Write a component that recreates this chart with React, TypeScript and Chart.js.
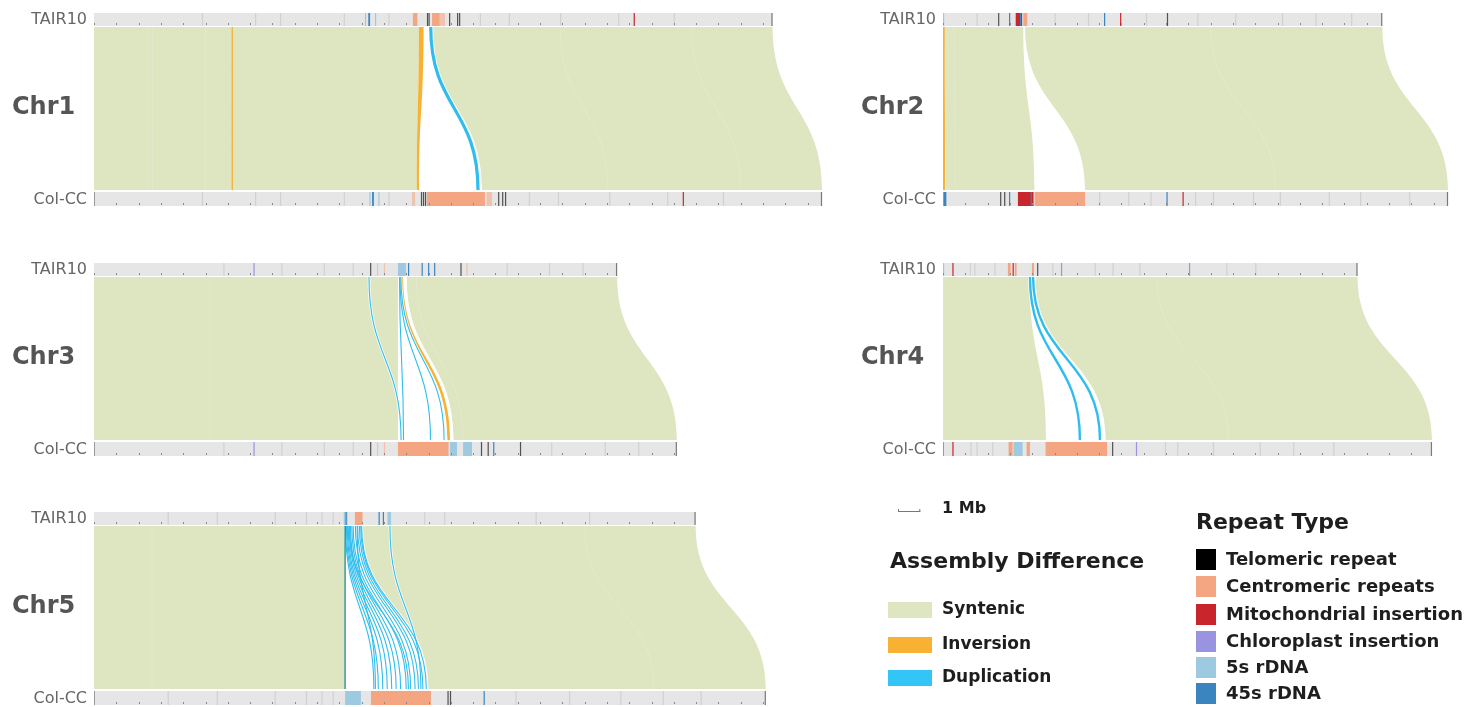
import React, { useEffect, useRef } from 'react';
import { Chart, registerables } from 'chart.js';

Chart.register(...registerables);

const W = 1476;
const H = 707;
const PX_PER_MB = 22.3;
const X_MAX_MB = W / PX_PER_MB;

// ---------- data ----------
const CHROMS = ['Chr1', 'Chr2', 'Chr3', 'Chr4', 'Chr5'];
const TAIR10_LEN = [30.43, 19.7, 23.46, 18.59, 26.98];
const COLCC_LEN = [32.65, 22.65, 26.14, 21.93, 30.13];

// syntenic blocks: [TAIR10 start, TAIR10 end, Col-CC start, Col-CC end] (Mb)
const SYN_CHR1 = [[0, 14.57, 0, 14.48], [15.2, 30.43, 17.4, 32.65]];
const SYN_CHR2 = [[0.08, 3.6, 0.12, 4.1], [3.68, 19.7, 6.37, 22.65]];
const SYN_CHR3 = [[0, 13.63, 0, 13.63], [14.02, 23.46, 16.12, 26.14]];
const SYN_CHR4 = [[0, 3.88, 0, 4.62], [4.15, 18.59, 7.3, 21.93]];
const SYN_CHR5 = [[0, 11.26, 0, 11.26], [12.05, 26.98, 15.0, 30.13]];

// inversions: [TAIR10 start, TAIR10 end, Col-CC start, Col-CC end]
const INV_CHR1 = [[6.17, 6.23, 6.17, 6.23], [14.57, 14.78, 14.48, 14.58]];
const INV_CHR2 = [[0, 0.08, 0, 0.1]];
const INV_CHR3 = [[13.74, 13.86, 15.85, 15.97]];
const INV_CHR4: number[][] = [];
const INV_CHR5: number[][] = [];

// duplications: [TAIR10 pos, Col-CC pos, line width]
const DUP_CHR1 = [[15.1, 17.22, 3.2]];
const DUP_CHR2: number[][] = [];
const DUP_CHR3 = [[12.33, 13.77, 1.1], [13.7, 13.88, 1.1], [13.72, 15.09, 1.1], [13.76, 15.7, 1.1]];
const DUP_CHR4 = [[3.9, 6.14, 2.4], [4.04, 7.04, 2.4]];
const DUP_CHR5 = [
  [11.28, 12.55, 1.1], [11.32, 12.75, 1.1], [11.36, 12.95, 1.1], [11.4, 13.15, 1.1],
  [11.45, 13.35, 1.1], [11.5, 13.55, 1.1], [11.56, 13.75, 1.1], [11.62, 14.0, 1.1],
  [11.72, 14.2, 1.1], [11.82, 14.4, 1.1], [11.9, 14.55, 1.1], [11.96, 14.75, 1.1],
  [12.0, 14.9, 1.1], [11.45, 14.1, 1.1], [13.27, 14.66, 1.1], [11.8, 12.62, 1.1],
];
// edge duplication line (teal)
const EDGE_CHR5 = [[11.26, 11.26, 1.3]];

// faint alignment boundaries inside syntenic blocks: [TAIR10 pos, Col-CC pos]
const BOUND_CHR1 = [[2.45, 2.45], [2.62, 2.62], [5.0, 5.0], [20.9, 23.05], [26.8, 29.0]];
const BOUND_CHR2 = [[0.5, 0.55], [12.0, 14.9]];
const BOUND_CHR3 = [[5.2, 5.2], [14.45, 16.55]];
const BOUND_CHR4 = [[9.6, 12.8]];
const BOUND_CHR5 = [[2.6, 2.6], [22.0, 25.1]];

// repeat features on ideograms: [start, end, type]
type Feat = [number, number, string];
const TAIR_FEAT_CHR1: Feat[] = [
  [4.84, 4.84, 'gap'], [7.22, 7.22, 'gap'], [8.34, 8.34, 'gap'], [11.2, 11.2, 'gap'], [13.2, 13.2, 'gap'],
  [12.15, 12.15, 's5'], [12.3, 12.38, 's45'], [12.6, 12.6, 's5'],
  [14.3, 14.5, 'cen'], [14.93, 14.93, 'tel'], [15.0, 15.0, 'tel'], [15.16, 15.5, 'cen'], [15.5, 15.74, 'cenL'],
  [15.92, 15.92, 'tel'], [16.28, 16.28, 'tel'], [16.37, 16.37, 'tel'], [17.3, 17.3, 'gap'], [18.6, 18.6, 'gap'],
  [20.9, 20.9, 'gap'], [23.5, 23.5, 'gap'], [24.2, 24.2, 'mito'], [26.0, 26.0, 'gap'],
];
const COLCC_FEAT_CHR1: Feat[] = [
  [4.84, 4.84, 'gap'], [7.22, 7.22, 'gap'], [8.34, 8.34, 'gap'], [11.2, 11.2, 'gap'], [13.2, 13.2, 'gap'],
  [12.35, 12.35, 's5'], [12.47, 12.55, 's45'], [12.75, 12.75, 's5'],
  [14.26, 14.4, 'cenL'], [14.66, 14.66, 'tel'], [14.75, 14.75, 'tel'], [14.84, 14.84, 'tel'],
  [14.93, 17.53, 'cen'], [17.6, 17.85, 'cenL'], [18.12, 18.12, 'tel'], [18.3, 18.3, 'tel'], [18.43, 18.43, 'tel'],
  [19.5, 19.5, 'gap'], [20.8, 20.8, 'gap'], [23.1, 23.1, 'gap'], [25.7, 25.7, 'gap'], [26.4, 26.4, 'mito'], [28.2, 28.2, 'gap'],
];
const TAIR_FEAT_CHR2: Feat[] = [
  [0, 0.05, 's5'], [1.5, 1.5, 'gap'], [2.47, 2.47, 'tel'], [2.96, 2.96, 's45'], [3.26, 3.55, 'mito'], [3.45, 3.45, 's45'],
  [3.6, 3.78, 'cen'], [5.0, 5.0, 'gap'], [6.5, 6.5, 'gap'], [7.22, 7.22, 's45'], [7.94, 7.94, 'mito'],
  [9.1, 9.1, 'gap'], [10.04, 10.04, 'tel'], [11.4, 11.4, 'gap'], [13.1, 13.1, 'gap'], [15.2, 15.2, 'gap'],
  [16.7, 16.7, 'gap'], [18.3, 18.3, 'gap'],
];
const COLCC_FEAT_CHR2: Feat[] = [
  [0, 0.15, 's45'], [2.56, 2.56, 'tel'], [2.74, 2.74, 'tel'], [2.96, 2.96, 's45'], [3.36, 4.06, 'mito'], [3.93, 3.93, 's45'],
  [4.11, 6.37, 'cen'], [7.0, 7.0, 'gap'], [8.3, 8.3, 'gap'], [9.3, 9.3, 'gap'], [10.02, 10.02, 's45'], [10.74, 10.74, 'mito'],
  [11.3, 11.3, 'gap'], [12.1, 12.1, 'gap'], [13.9, 13.9, 'gap'], [15.1, 15.1, 'gap'], [17.3, 17.3, 'gap'],
  [18.7, 18.7, 'gap'], [20.9, 20.9, 'gap'],
];
const TAIR_FEAT_CHR3: Feat[] = [
  [5.8, 5.8, 'gap'], [7.15, 7.15, 'chl'], [8.4, 8.4, 'gap'], [10.3, 10.3, 'gap'], [11.6, 11.6, 'gap'],
  [12.38, 12.38, 'tel'], [12.69, 12.69, 'cenL'], [13.0, 13.0, 'cenL'], [13.63, 13.99, 's5'], [14.08, 14.08, 's45'],
  [14.69, 14.69, 's45'], [14.98, 14.98, 's45'], [15.25, 15.25, 's45'], [16.43, 16.43, 'tel'], [16.7, 16.7, 'cenL'],
  [18.5, 18.5, 'gap'], [20.4, 20.4, 'gap'], [21.9, 21.9, 'gap'],
];
const COLCC_FEAT_CHR3: Feat[] = [
  [5.8, 5.8, 'gap'], [7.15, 7.15, 'chl'], [8.4, 8.4, 'gap'], [10.3, 10.3, 'gap'], [11.6, 11.6, 'gap'],
  [12.38, 12.38, 'tel'], [12.69, 12.69, 'cenL'], [13.0, 13.0, 'cenL'], [13.63, 15.9, 'cen'],
  [15.96, 16.28, 's5'], [16.55, 16.95, 's5'], [17.35, 17.35, 'tel'], [17.65, 17.65, 'tel'], [17.9, 17.9, 's45'],
  [19.1, 19.1, 'tel'], [20.5, 20.5, 'gap'], [22.9, 22.9, 'gap'], [24.4, 24.4, 'gap'],
];
const TAIR_FEAT_CHR4: Feat[] = [
  [0, 0.04, 's5'], [0.42, 0.42, 'mito'], [1.2, 1.2, 'gap'], [1.4, 1.4, 'gap'], [2.3, 2.3, 'gap'],
  [2.91, 3.03, 'cen'], [3.12, 3.12, 'mito'], [3.22, 3.3, 'cen'], [3.99, 4.08, 'cen'], [4.22, 4.22, 'tel'],
  [4.9, 4.9, 'gap'], [5.29, 5.29, 'chl'], [6.8, 6.8, 'gap'], [7.6, 7.6, 'gap'], [8.8, 8.8, 'gap'],
  [11.03, 11.03, 'chl'], [12.7, 12.7, 'gap'], [14.0, 14.0, 'gap'],
];
const COLCC_FEAT_CHR4: Feat[] = [
  [0.42, 0.42, 'mito'], [1.23, 1.23, 'gap'], [1.5, 1.5, 'gap'], [2.2, 2.2, 'gap'], [2.94, 3.12, 'cen'],
  [3.16, 3.57, 's5'], [3.75, 3.9, 'cen'], [4.6, 7.36, 'cen'], [7.58, 7.58, 'tel'], [8.65, 8.65, 'chl'],
  [9.95, 9.95, 'gap'], [10.5, 10.5, 'gap'], [12.1, 12.1, 'gap'], [14.2, 14.2, 'gap'], [15.7, 15.7, 'gap'],
  [17.5, 17.5, 'gap'],
];
const TAIR_FEAT_CHR5: Feat[] = [
  [3.3, 3.3, 'gap'], [5.5, 5.5, 'gap'], [8.1, 8.1, 'gap'], [9.5, 9.5, 'gap'], [10.2, 10.2, 'gap'], [10.7, 10.7, 'gap'],
  [11.2, 11.37, 's5'], [11.28, 11.28, 's45'], [11.7, 12.04, 'cen'], [12.76, 12.8, 's45'], [12.95, 13.0, 's45'],
  [13.16, 13.32, 's5'], [14.8, 14.8, 'gap'], [15.7, 15.7, 'gap'], [19.8, 19.8, 'gap'], [22.2, 22.2, 'gap'],
];
const COLCC_FEAT_CHR5: Feat[] = [
  [3.3, 3.3, 'gap'], [5.5, 5.5, 'gap'], [8.1, 8.1, 'gap'], [9.5, 9.5, 'gap'], [10.2, 10.2, 'gap'], [10.7, 10.7, 'gap'],
  [11.26, 11.97, 's5'], [12.42, 15.11, 'cen'], [15.85, 15.85, 'tel'], [15.96, 15.96, 'tel'], [17.47, 17.47, 's45'],
  [18.9, 18.9, 'gap'], [21.3, 21.3, 'gap'], [23.6, 23.6, 'gap'], [25.5, 25.5, 'gap'], [27.2, 27.2, 'gap'],
];

const SYN = [SYN_CHR1, SYN_CHR2, SYN_CHR3, SYN_CHR4, SYN_CHR5];
const INV = [INV_CHR1, INV_CHR2, INV_CHR3, INV_CHR4, INV_CHR5];
const DUP = [DUP_CHR1, DUP_CHR2, DUP_CHR3, DUP_CHR4, DUP_CHR5];
const EDGE = [[], [], [], [], EDGE_CHR5] as number[][][];
const BOUND = [BOUND_CHR1, BOUND_CHR2, BOUND_CHR3, BOUND_CHR4, BOUND_CHR5];
const TAIR_FEAT = [TAIR_FEAT_CHR1, TAIR_FEAT_CHR2, TAIR_FEAT_CHR3, TAIR_FEAT_CHR4, TAIR_FEAT_CHR5];
const COLCC_FEAT = [COLCC_FEAT_CHR1, COLCC_FEAT_CHR2, COLCC_FEAT_CHR3, COLCC_FEAT_CHR4, COLCC_FEAT_CHR5];

const DIFF_LABELS = ['Syntenic', 'Inversion', 'Duplication'];
const REPEAT_LABELS = ['Telomeric repeat', 'Centromeric repeats', 'Mitochondrial insertion', 'Chloroplast insertion', '5s rDNA', '45s rDNA'];
const REPEAT_KEYS = ['telS', 'cen', 'mito', 'chl', 's5', 's45'];

// ---------- styles / layout ----------
const C_SYN = '#dee5c1';
const C_INV = '#f8b132';
const C_DUP = '#2fbdee';
const C_EDGE = '#1b8f98';
const C_BAR = '#e6e6e6';
const REPEAT_COLOR: Record<string, string> = {
  tel: 'rgba(45,45,45,0.8)', telS: '#000000', cen: '#f4a582', cenL: 'rgba(244,165,130,0.55)', mito: '#c9252c',
  chl: '#9a94e0', s5: '#9ecae1', s45: '#3a84c0', gap: 'rgba(185,185,185,0.45)',
};
const DIFF_COLORS = [C_SYN, C_INV, '#33c5f6'];

const PANEL_COL = [0, 1, 0, 1, 0];
const PANEL_ROW = [0, 0, 1, 1, 2];
const COL_OFFSET_MB = [94 / PX_PER_MB, 943 / PX_PER_MB];
const ROW_TOP = [13, 263, 512];
const TOP_BAR = [0, 13];
const GREEN = [14, 177];
const BOT_BAR = [179, 193];
const FONT = '"DejaVu Sans", Verdana, sans-serif';

const plugin = {
  id: 'syntenyPlot',
  afterDraw(chart: any) {
    const ctx: CanvasRenderingContext2D = chart.ctx;
    const xs = chart.scales.x;
    const ys = chart.scales.y;
    const X = (p: number, mb: number) => xs.getPixelForValue(COL_OFFSET_MB[PANEL_COL[p]] + mb);
    const Y = (v: number) => ys.getPixelForValue(v);
    const mbPx = xs.getPixelForValue(1) - xs.getPixelForValue(0);

    ctx.save();
    for (let p = 0; p < CHROMS.length; p++) {
      const rt = ROW_TOP[PANEL_ROW[p]];
      const yT = Y(rt + GREEN[0]);
      const yB = Y(rt + GREEN[1]);
      const ym = (yT + yB) / 2;

      const ribbon = (a: number, b: number, c: number, d: number, color: string) => {
        const xa = X(p, a), xb = X(p, b), xc = X(p, c), xd = X(p, d);
        ctx.beginPath();
        ctx.moveTo(xa, yT);
        ctx.lineTo(xb, yT);
        ctx.bezierCurveTo(xb, ym, xd, ym, xd, yB);
        ctx.lineTo(xc, yB);
        ctx.bezierCurveTo(xc, ym, xa, ym, xa, yT);
        ctx.closePath();
        ctx.fillStyle = color;
        ctx.fill();
      };
      const curve = (t: number, c: number, w: number, color: string) => {
        const xt = X(p, t), xc = X(p, c);
        ctx.beginPath();
        ctx.moveTo(xt, yT);
        ctx.bezierCurveTo(xt, ym, xc, ym, xc, yB);
        ctx.lineWidth = w;
        ctx.strokeStyle = color;
        ctx.stroke();
      };

      SYN[p].forEach((s) => ribbon(s[0], s[1], s[2], s[3], C_SYN));
      BOUND[p].forEach((b) => curve(b[0], b[1], 1, 'rgba(255,255,255,0.16)'));
      INV[p].forEach((s) => ribbon(s[0], s[1], s[2], s[3], C_INV));
      if (p === 2) INV[p].forEach((s) => curve(s[1] + 0.12, s[3] + 0.12, 1.2, 'rgba(255,255,255,0.9)'));
      DUP[p].forEach((d) => curve(d[0], d[1], d[2] + 1.6, 'rgba(255,255,255,0.9)'));
      DUP[p].forEach((d) => curve(d[0], d[1], d[2], C_DUP));
      EDGE[p].forEach((d) => curve(d[0], d[1], d[2], C_EDGE));

      // ideograms
      const bars: [number[], number, Feat[]][] = [
        [TOP_BAR, TAIR10_LEN[p], TAIR_FEAT[p]],
        [BOT_BAR, COLCC_LEN[p], COLCC_FEAT[p]],
      ];
      bars.forEach(([bb, len, feats], bi) => {
        const y0 = Y(rt + bb[0]);
        const y1 = Y(rt + bb[1]);
        const x0 = X(p, 0);
        const x1 = X(p, len);
        ctx.fillStyle = C_BAR;
        ctx.fillRect(x0, y0, x1 - x0, y1 - y0);
        feats.forEach(([s, e, t]) => {
          const fx0 = X(p, s);
          const fx1 = X(p, e);
          ctx.fillStyle = REPEAT_COLOR[t];
          ctx.fillRect(fx0, y0, Math.max(1.2, fx1 - fx0), y1 - y0);
        });
        ctx.fillStyle = '#8a8a8a';
        for (let k = 0; k <= Math.floor(len); k++) {
          ctx.fillRect(Math.round(X(p, k)), y1 - 3, 1, 2);
        }
        ctx.fillStyle = '#7a7a7a';
        ctx.fillRect(x1 - 1.2, y0, 1.2, y1 - y0);
        if (bi === 1) {
          ctx.fillStyle = '#9a9a9a';
          ctx.fillRect(x0, y0, 1, y1 - y0);
        }
        // label
        ctx.fillStyle = '#666666';
        ctx.font = `16px ${FONT}`;
        ctx.textAlign = 'right';
        ctx.textBaseline = 'middle';
        ctx.fillText(bi === 0 ? 'TAIR10' : 'Col-CC', x0 - 7, (y0 + y1) / 2 + 0.5);
      });

      // chromosome label
      ctx.fillStyle = '#555555';
      ctx.font = `bold 24px ${FONT}`;
      ctx.textAlign = 'left';
      ctx.textBaseline = 'middle';
      ctx.fillText(CHROMS[p], X(p, 0) - 82, Y(rt + 95));
    }

    // ---------- legend ----------
    // scale bar 1 Mb
    const sbx = 898;
    ctx.strokeStyle = '#777';
    ctx.lineWidth = 1;
    ctx.beginPath();
    ctx.moveTo(sbx, 511.5);
    ctx.lineTo(sbx + mbPx, 511.5);
    ctx.moveTo(sbx + 0.5, 509);
    ctx.lineTo(sbx + 0.5, 512);
    ctx.moveTo(sbx + mbPx - 0.5, 509);
    ctx.lineTo(sbx + mbPx - 0.5, 512);
    ctx.stroke();
    ctx.fillStyle = '#1e1e1e';
    ctx.textAlign = 'left';
    ctx.textBaseline = 'middle';
    ctx.font = `bold 16px ${FONT}`;
    ctx.fillText('1 Mb', 942, 509);

    ctx.font = `bold 22px ${FONT}`;
    ctx.fillText('Assembly Difference', 890, 562);
    const dTops = [602, 637, 670];
    DIFF_LABELS.forEach((lab, i) => {
      ctx.fillStyle = DIFF_COLORS[i];
      ctx.fillRect(888, dTops[i], 44, 16);
      ctx.fillStyle = '#1e1e1e';
      ctx.font = `bold 17px ${FONT}`;
      ctx.fillText(lab, 942, dTops[i] + 8);
    });

    ctx.font = `bold 22px ${FONT}`;
    ctx.fillText('Repeat Type', 1196, 523);
    const rTops = [549, 576, 604, 631, 657, 683];
    REPEAT_LABELS.forEach((lab, i) => {
      ctx.fillStyle = REPEAT_COLOR[REPEAT_KEYS[i]];
      ctx.fillRect(1196, rTops[i], 20, 21);
      ctx.fillStyle = '#1e1e1e';
      ctx.font = `bold 18px ${FONT}`;
      ctx.fillText(lab, 1226, rTops[i] + 11);
    });
    ctx.restore();
  },
};

export default function App() {
  const ref = useRef<HTMLCanvasElement>(null);
  useEffect(() => {
    if (!ref.current) return;
    const chart = new Chart(ref.current, {
      type: 'scatter',
      data: { datasets: [] },
      options: {
        responsive: false,
        animation: false,
        events: [],
        layout: { padding: 0 },
        plugins: { legend: { display: false }, tooltip: { enabled: false }, title: { display: false } },
        scales: {
          x: { type: 'linear', min: 0, max: X_MAX_MB, display: false },
          y: { type: 'linear', min: 0, max: H, reverse: true, display: false },
        },
      },
      plugins: [plugin],
    } as any);
    return () => chart.destroy();
  }, []);
  return (
    <div style={{ position: 'absolute', left: 0, top: 0, width: W, height: H, background: '#ffffff' }}>
      <canvas ref={ref} width={W} height={H} style={{ display: 'block', width: W, height: H }} />
    </div>
  );
}
